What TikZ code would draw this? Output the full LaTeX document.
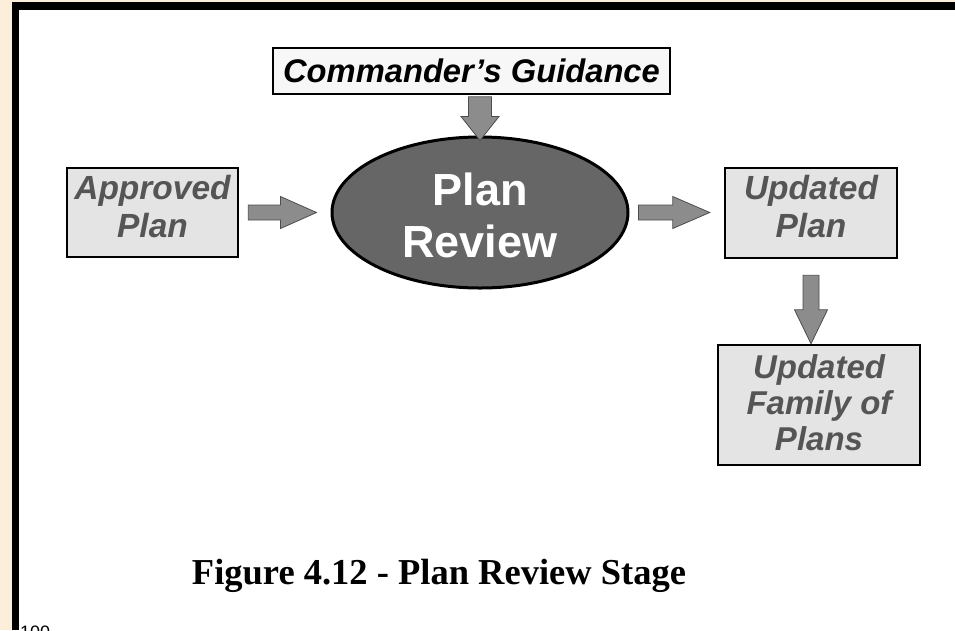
\documentclass[tikz,border=0pt]{standalone}
\usepackage{fontspec}
\setmainfont{Liberation Sans}
\newfontfamily\serifcap{Liberation Serif}
\usetikzlibrary{shapes.geometric,calc}

\definecolor{cream}{HTML}{FBEEDA}
\definecolor{boxfill}{HTML}{E4E4E4}
\definecolor{boxtext}{HTML}{555555}
\definecolor{arrfill}{HTML}{8C8C8C}
\definecolor{arredge}{HTML}{4D4D4D}
\definecolor{ovalfill}{HTML}{666666}

\tikzset{
  planbox/.style={draw=black, line width=2.5pt, fill=boxfill, inner sep=0pt},
  plantext/.style={text=boxtext, inner sep=0pt, align=center,
    font=\bfseries\itshape\fontsize{33.5}{38}\selectfont},
  arrow shaft/.store in=\ashaft,
  arrow head/.store in=\ahead,
  arrow len/.store in=\alen,
  blockarrow/.style={fill=arrfill, draw=arredge, line width=0.8pt, line join=miter},
  % block arrow pointing right, from start point to tip
  harrow/.style={blockarrow, to path={let \p1=(\tikztostart), \p2=(\tikztotarget) in
    (\x1,{\y1-\ashaft/2}) -- ({\x2-\alen},{\y1-\ashaft/2}) -- ({\x2-\alen},{\y1-\ahead/2})
    -- (\x2,\y1) -- ({\x2-\alen},{\y1+\ahead/2}) -- ({\x2-\alen},{\y1+\ashaft/2})
    -- (\x1,{\y1+\ashaft/2}) -- cycle}},
  % block arrow pointing down, from start point to tip
  varrow/.style={blockarrow, to path={let \p1=(\tikztostart), \p2=(\tikztotarget) in
    ({\x1-\ashaft/2},\y1) -- ({\x1-\ashaft/2},{\y2+\alen}) -- ({\x1-\ahead/2},{\y2+\alen})
    -- (\x1,\y2) -- ({\x1+\ahead/2},{\y2+\alen}) -- ({\x1+\ashaft/2},{\y2+\alen})
    -- ({\x1+\ashaft/2},\y1) -- cycle}},
}

\begin{document}
\begin{tikzpicture}[x=1pt, y=-1pt]
  \useasboundingbox (0,0) rectangle (955,630);
  % slide frame
  \fill[cream] (0,0) rectangle (955,630);
  \fill[black] (12,2) rectangle (955,630);
  \fill[white] (19,10) rectangle (955,630);

  % guidance box and review oval
  \node[draw=black, line width=2.5pt, fill=white!97!black, text=black, inner sep=0pt,
        font=\bfseries\itshape\fontsize{32.7}{38}\selectfont,
        minimum width=397pt, minimum height=46pt] (cg) at (471.5,71) {Commander’s Guidance};
  \node[ellipse, draw=black, line width=3pt, fill=ovalfill, inner sep=0pt,
        minimum width=296pt, minimum height=151pt] (pr) at (480,212.5) {};
  \node[text=white, inner sep=0pt, align=center, font=\bfseries\fontsize{45}{52}\selectfont]
        (prtext) at ($(pr.center)+(0,2.5)$) {Plan\\Review};

  % plan boxes
  \node[planbox, minimum width=171pt, minimum height=89pt] (ap) at (152.5,212.5) {};
  \node[plantext] (aptext) at ($(ap.center)+(0,-6)$) {Approved\\Plan};
  \node[planbox, minimum width=172pt, minimum height=90pt] (up) at (811,213) {};
  \node[plantext] (uptext) at ($(up.center)+(0,-6)$) {Updated\\Plan};
  \node[planbox, minimum width=202pt, minimum height=120pt] (uf) at (819,405) {};
  \node[plantext, font=\bfseries\itshape\fontsize{33}{36}\selectfont]
        (uftext) at ($(uf.center)+(0,-2)$) {Updated\\Family of\\Plans};

  % connectors
  \coordinate (cgfoot) at (cg.south -| pr.north);
  \draw[varrow, arrow shaft=23pt, arrow head=38pt, arrow len=24pt]
        ($(cgfoot)+(0,1.5)$) to ($(pr.north)+(0,5)$);
  \draw[harrow, arrow shaft=15pt, arrow head=32pt, arrow len=36pt]
        ($(ap.east)+(9,0)$) to ($(pr.west)+(-14,0)$);
  \draw[harrow, arrow shaft=15pt, arrow head=32pt, arrow len=37pt]
        ($(pr.east)+(9,0)$) to ($(up.west)+(-14,0)$);
  \coordinate (ufhead) at (up.south |- uf.north);
  \draw[varrow, arrow shaft=16pt, arrow head=33pt, arrow len=34pt]
        ($(up.south)+(0,16)$) to (ufhead);

  % caption and page number
  \node[font=\serifcap\bfseries\fontsize{36.5}{40}\selectfont, anchor=base, inner sep=0pt]
        (caption) at (439,584) {Figure 4.12 - Plan Review Stage};
  \node[font=\fontsize{18}{20}\selectfont, anchor=base west, inner sep=0pt]
        (pagenum) at (20,638) {100};
\end{tikzpicture}
\end{document}
